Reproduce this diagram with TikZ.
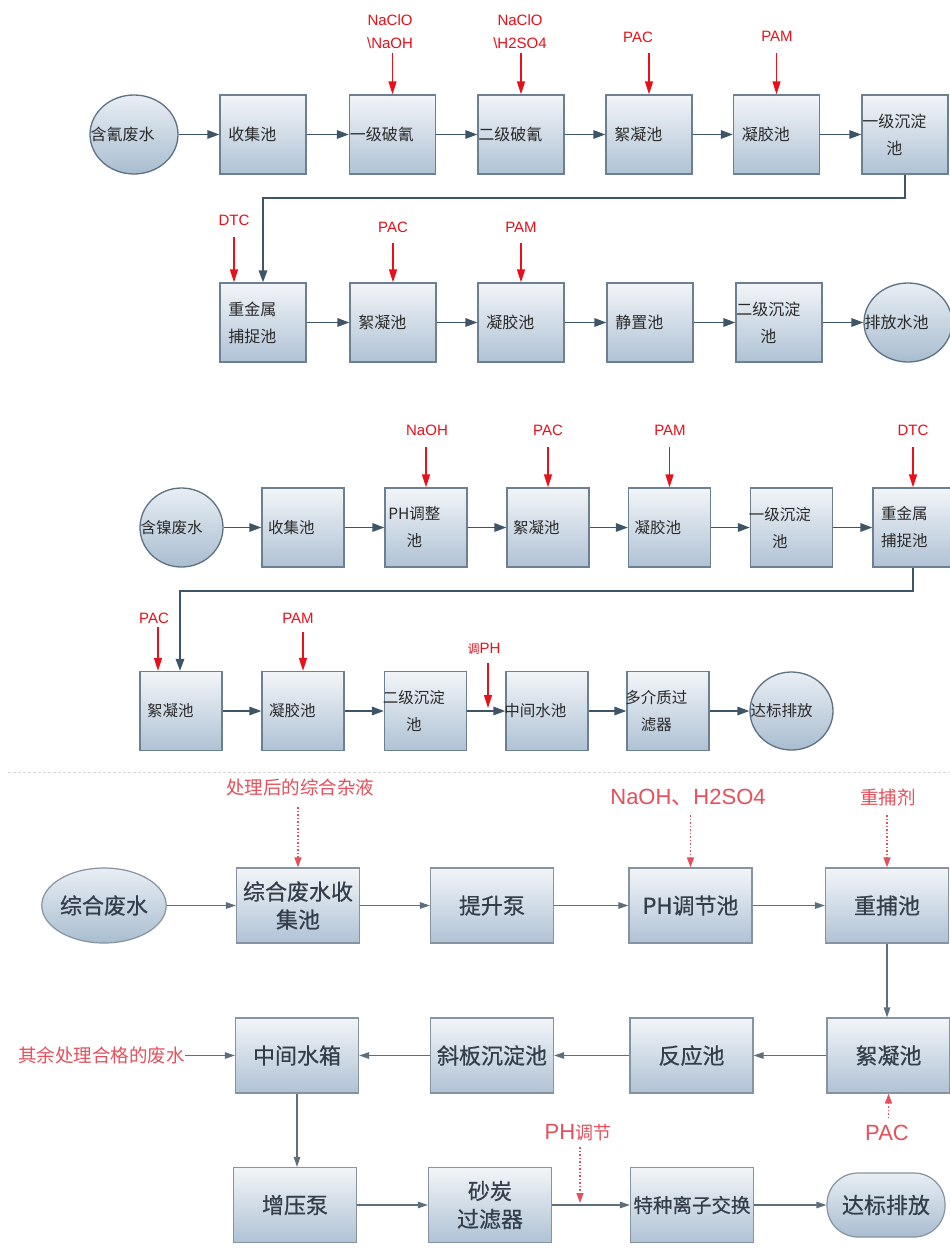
\documentclass[tikz,border=0pt]{standalone}
\usepackage{fontspec}
\setmainfont{Noto Sans CJK SC}
\newfontfamily\lat{Liberation Sans}
\newfontfamily\bcjk[FakeBold=0.6]{Noto Sans CJK SC}
\usetikzlibrary{arrows.meta,shapes.geometric}
\definecolor{boxline}{HTML}{6D8091}
\definecolor{boxtop}{HTML}{F2F5F8}
\definecolor{boxbot}{HTML}{AFC2D5}
\definecolor{ellline}{HTML}{5E7183}
\definecolor{elltop}{HTML}{E8EEF4}
\definecolor{ellbot}{HTML}{A9BDD0}
\definecolor{flowc}{HTML}{3E5568}
\definecolor{redc}{HTML}{E8101A}
\definecolor{tx}{HTML}{2A2A2A}
\definecolor{bboxline}{HTML}{8693A0}
\definecolor{bflowc}{HTML}{5F6E7B}
\definecolor{btxt}{HTML}{333E4A}
\definecolor{rdotc}{HTML}{E4505C}
\begin{document}
\begin{tikzpicture}[x=1pt,y=-1pt,
  box/.style={draw=boxline, line width=1.3pt, top color=boxtop, bottom color=boxbot, minimum width=86pt, minimum height=79pt, inner sep=0pt},
  mbox/.style={box, minimum width=82pt},
  ell/.style={ellipse, draw=ellline, line width=1.3pt, top color=elltop, bottom color=ellbot, minimum width=88pt, minimum height=79pt, inner sep=0pt},
  txt/.style={font=\fontsize{16}{27}\selectfont, align=center, text=tx, inner sep=0pt},
  mtxt/.style={txt, font=\fontsize{15.5}{27}\selectfont},
  etxt/.style={txt, anchor=west},
  metxt/.style={mtxt, anchor=west},
  flow/.style={draw=flowc, line width=1.6pt, -{Triangle[length=12pt,width=8.5pt]}},
  redarr/.style={draw=redc, line width=1.3pt, -{Triangle[length=13pt,width=8pt]}},
  redlbl/.style={text=redc, font=\lat\fontsize{15}{23}\selectfont, align=center, inner sep=0pt},
  bbox/.style={draw=bboxline, line width=1.2pt, top color=boxtop, bottom color=boxbot, minimum width=123pt, minimum height=75pt, inner sep=0pt, font=\bcjk\fontsize{22}{28}\selectfont, text=btxt, align=center},
  bflow/.style={draw=bflowc, line width=1.2pt, -{Triangle[length=10pt,width=6.5pt]}},
  rdot/.style={draw=rdotc, line width=1.5pt, dotted, -{Triangle[length=10pt,width=7pt]}},
  rlbl/.style={text=rdotc, inner sep=0pt, font=\fontsize{18.5}{22}\selectfont},
  rlat/.style={text=rdotc, inner sep=0pt, font=\lat\fontsize{22}{24}\selectfont}
]
\useasboundingbox (0,0) rectangle (950,1250);
\fill[white] (0,0) rectangle (950,1250);

% ================= Section 1 =================
\node[ell, minimum width=88pt] (a1) at (134,134.5) {};
\node[etxt] (a1t) at ([xshift=1pt]a1.west) {含氰废水};
\node[box] (a2) at (263,134.5) {};
\node[txt] (a2t) at ([xshift=33pt]a2.west) {收集池};
\node[box] (a3) at (392.5,134.5) {};
\node[txt] (a3t) at ([xshift=33pt]a3.west) {一级破氰};
\node[box] (a4) at (521,134.5) {};
\node[txt] (a4t) at ([xshift=33pt]a4.west) {二级破氰};
\node[box] (a5) at (649,134.5) {};
\node[txt] (a5t) at ([xshift=33pt]a5.west) {絮凝池};
\node[box] (a6) at (776.5,134.5) {};
\node[txt] (a6t) at ([xshift=33pt]a6.west) {凝胶池};
\node[box] (a7) at (905,134.5) {};
\node[txt] (a7t) at ([xshift=33pt]a7.west) {一级沉淀\\池};
\foreach \p/\q in {a1/a2,a2/a3,a3/a4,a4/a5,a5/a6,a6/a7} \draw[flow] (\p) -- (\q);

\node[redlbl] (la3) at (390,31.5) {NaClO\\\textbackslash NaOH};
\node[redlbl] (la4) at (520,31.5) {NaClO\\\textbackslash H2SO4};
\node[redlbl] (la5) at (638,37) {PAC};
\node[redlbl] (la6) at (777,36) {PAM};
\coordinate (sa3) at (392.5,53);
\coordinate (sa4) at (521,53);
\coordinate (sa5) at (649,53);
\coordinate (sa6) at (776.5,53);
\draw[redarr] (sa3) -- (a3.north);
\draw[redarr] (sa4) -- (a4.north);
\draw[redarr] (sa5) -- (a5.north);
\draw[redarr] (sa6) -- (a6.north);

\node[box] (r1) at (263,322.5) {};
\node[txt] (r1t) at ([xshift=33pt]r1.west) {重金属\\捕捉池};
\node[box] (r2) at (393,322.5) {};
\node[txt] (r2t) at ([xshift=33pt]r2.west) {絮凝池};
\node[box] (r3) at (521,322.5) {};
\node[txt] (r3t) at ([xshift=33pt]r3.west) {凝胶池};
\node[box] (r4) at (650,322.5) {};
\node[txt] (r4t) at ([xshift=33pt]r4.west) {静置池};
\node[box] (r5) at (779,322.5) {};
\node[txt] (r5t) at ([xshift=33pt]r5.west) {二级沉淀\\池};
\node[ell] (r6) at (908,322.5) {};
\node[etxt] (r6t) at ([xshift=1pt]r6.west) {排放水池};
\foreach \p/\q in {r1/r2,r2/r3,r3/r4,r4/r5,r5/r6} \draw[flow] (\p) -- (\q);

\coordinate (ret1) at (263,198);
\draw[flow] (a7.south) |- (ret1) -- (r1.north);

\node[redlbl] (lr1) at (234,220) {DTC};
\node[redlbl] (lr2) at (393,227) {PAC};
\node[redlbl] (lr3) at (521,227) {PAM};
\coordinate (sr1) at (234,237);
\coordinate (sr2) at (393,243);
\coordinate (sr3) at (521,243);
\draw[redarr] (sr1) -- (sr1 |- r1.north);
\draw[redarr] (sr2) -- (r2.north);
\draw[redarr] (sr3) -- (r3.north);

% ================= Section 2 =================
\node[ell, minimum width=83pt] (m1) at (181.5,527.5) {};
\node[metxt] (m1t) at ([xshift=1pt]m1.west) {含镍废水};
\node[mbox] (m2) at (303,527.5) {};
\node[mtxt] (m2t) at ([xshift=30pt]m2.west) {收集池};
\node[mbox] (m3) at (426,527.5) {};
\node[mtxt] (m3t) at ([xshift=30pt]m3.west) {PH调整\\池};
\node[mbox] (m4) at (548,527.5) {};
\node[mtxt] (m4t) at ([xshift=30pt]m4.west) {絮凝池};
\node[mbox] (m5) at (669.5,527.5) {};
\node[mtxt] (m5t) at ([xshift=30pt]m5.west) {凝胶池};
\node[mbox] (m6) at (791.5,527.5) {};
\node[mtxt] (m6t) at ([xshift=30pt]m6.west) {一级沉淀\\池};
\node[mbox] (m7) at (914,527.5) {};
\node[mtxt] (m7t) at ([xshift=32pt]m7.west) {重金属\\捕捉池};
\foreach \p/\q in {m1/m2,m2/m3,m3/m4,m4/m5,m5/m6,m6/m7} \draw[flow] (\p) -- (\q);

\node[redlbl] (lm3) at (427,430) {NaOH};
\node[redlbl] (lm4) at (548,430) {PAC};
\node[redlbl] (lm5) at (670,430) {PAM};
\node[redlbl] (lm7) at (913,430) {DTC};
\coordinate (sm3) at (426,447);
\coordinate (sm4) at (548,447);
\coordinate (sm5) at (669.5,447);
\coordinate (sm7) at (913,447);
\draw[redarr] (sm3) -- (m3.north);
\draw[redarr] (sm4) -- (m4.north);
\draw[redarr] (sm5) -- (m5.north);
\draw[redarr] (sm7) -- (sm7 |- m7.north);

\node[mbox] (n1) at (181,711) {};
\node[mtxt] (n1t) at ([xshift=31pt]n1.west) {絮凝池};
\node[mbox] (n2) at (303,711) {};
\node[mtxt] (n2t) at ([xshift=31pt]n2.west) {凝胶池};
\node[mbox] (n3) at (425.5,711) {};
\node[mtxt] (n3t) at ([xshift=30pt]n3.west) {二级沉淀\\池};
\node[mbox] (n4) at (547,711) {};
\node[mtxt] (n4t) at ([xshift=30pt]n4.west) {中间水池};
\node[mbox] (n5) at (668,711) {};
\node[mtxt] (n5t) at ([xshift=30pt]n5.west) {多介质过\\滤器};
\node[ell, minimum width=83pt, minimum height=78pt] (n6) at (791.5,711) {};
\node[metxt] (n6t) at ([xshift=1pt]n6.west) {达标排放};
\foreach \p/\q in {n1/n2,n2/n3,n3/n4,n4/n5,n5/n6} \draw[flow] (\p) -- (\q);

\coordinate (ret2) at (180,591);
\draw[flow] (sm7 |- m7.south) |- (ret2) -- (ret2 |- n1.north);

\node[redlbl] (ln1) at (154,618) {PAC};
\node[redlbl] (ln2) at (298,618) {PAM};
\node[redlbl] (ln3) at (484,649) {{\fontspec{Noto Sans CJK SC}\fontsize{12}{14}\selectfont 调}PH};
\coordinate (sn1) at (158,627);
\coordinate (sn2) at (303,632);
\coordinate (sn3) at (488,663);
\draw[redarr] (sn1) -- (sn1 |- n1.north);
\draw[redarr] (sn2) -- (n2.north);
\coordinate (jn3) at (488,708);
\draw[redarr] (sn3) -- (jn3);

% ================= Section 3 =================
\draw[densely dashed, draw=black!15, line width=0.9pt] (8,772) -- (950,772);

\node[ell, draw=bboxline, line width=1.2pt, minimum width=124pt, minimum height=75pt, font=\bcjk\fontsize{22}{28}\selectfont, text=btxt] (b1) at (104,905.5) {综合废水};
\node[bbox] (b2) at (298,905.5) {综合废水收\\集池};
\node[bbox] (b3) at (492,905.5) {提升泵};
\node[bbox] (b4) at (690.5,905.5) {PH调节池};
\node[bbox] (b5) at (887,905.5) {重捕池};
\foreach \p/\q in {b1/b2,b2/b3,b3/b4,b4/b5} \draw[bflow] (\p) -- (\q);

\node[bbox] (c1) at (297,1055.5) {中间水箱};
\node[bbox] (c2) at (492,1055.5) {斜板沉淀池};
\node[bbox] (c3) at (691.5,1055.5) {反应池};
\node[bbox] (c4) at (888.5,1055.5) {絮凝池};
\foreach \p/\q in {c4/c3,c3/c2,c2/c1} \draw[bflow] (\p) -- (\q);
\draw[bflow] (b5.south) -- (b5.south |- c4.north);

\node[bbox] (d1) at (295,1205) {增压泵};
\node[bbox] (d2) at (490,1205) {砂炭\\过滤器};
\node[bbox, font=\bcjk\fontsize{19.5}{24}\selectfont] (d3) at (692,1205) {特种离子交换};
\node[draw=bboxline, line width=1.2pt, top color=elltop, bottom color=ellbot, rounded corners=31pt, minimum width=118pt, minimum height=64pt, inner sep=0pt, font=\bcjk\fontsize{22}{28}\selectfont, text=btxt] (d4) at (886,1205) {达标排放};
\foreach \p/\q in {d1/d2,d2/d3,d3/d4} \draw[bflow] (\p) -- (\q);
\draw[bflow] (c1.south) -- (c1.south |- d1.north);

\node[rlbl] (lb2) at (300,787) {处理后的综合杂液};
\node[rlat] (lb4) at (688,797) {NaOH{\fontspec{Noto Sans CJK SC}、}H2SO4};
\node[rlbl] (lb5) at (888,797) {重捕剂};
\node[rlbl, anchor=east] (lc1) at (185,1055.5) {其余处理合格的废水};
\node[rlat] (lc4) at (887,1133) {PAC};
\node[rlat] (ld3) at (578,1133) {PH{\fontspec{Noto Sans CJK SC}\fontsize{18}{20}\selectfont 调节}};

\coordinate (sb2) at (298,807);
\coordinate (sb4) at (690.5,815);
\coordinate (sb5) at (887,815);
\draw[rdot] (sb2) -- (b2.north);
\draw[rdot] (sb4) -- (b4.north);
\draw[rdot] (sb5) -- (b5.north);
\draw[bflow] (lc1.east |- c1.west) -- (c1.west);
\coordinate (sc4) at (888.5,1118);
\draw[rdot] (sc4) -- (c4.south);
\coordinate (sd3) at (580,1147);
\coordinate (jd3) at (580,1203);
\draw[rdot] (sd3) -- (jd3);
\end{tikzpicture}
\end{document}
